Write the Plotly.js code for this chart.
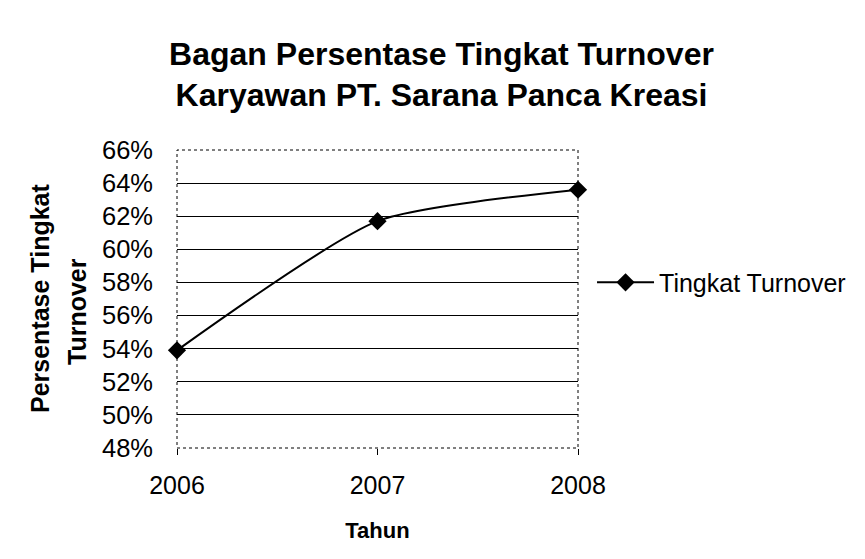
<!DOCTYPE html>
<html>
<head>
<meta charset="utf-8">
<script src="https://cdn.plot.ly/plotly-3.0.1.min.js"></script>
<style>html,body{margin:0;padding:0;background:#fff;}</style>
</head>
<body>
<div id="chart" style="width:865px;height:559px;"></div>
<script>
const years = [2006, 2007, 2008];
const turnover = [0.539, 0.617, 0.636];
const seriesName = "Tingkat Turnover";
const yTicks = [0.48, 0.50, 0.52, 0.54, 0.56, 0.58, 0.60, 0.62, 0.64, 0.66];
const yTitleLines = ["Persentase Tingkat", "Turnover"];

const font = "Liberation Sans, Arial, sans-serif";

const trace = {
  x: years,
  y: turnover,
  name: seriesName,
  type: "scatter",
  mode: "lines+markers",
  line: {color: "#000", width: 2, shape: "spline", smoothing: 0.6},
  marker: {symbol: "diamond", size: 14, color: "#000"},
  cliponaxis: false
};

const layout = {
  width: 865, height: 559,
  margin: {l: 177, r: 287, t: 150, b: 111},
  paper_bgcolor: "#fff", plot_bgcolor: "#fff",
  font: {family: font, color: "#000", size: 25},
  title: {
    text: "<b>Bagan Persentase Tingkat Turnover<br>Karyawan PT. Sarana Panca Kreasi</b>",
    font: {family: font, size: 32, color: "#000"},
    x: 0.5104, xanchor: "center", y: 0.884, yanchor: "middle", yref: "container"
  },
  xaxis: {
    range: [2006, 2008],
    tickvals: years,
    ticktext: years.map(String),
    ticks: "outside", ticklen: 6, tickcolor: "#000",
    ticklabelstandoff: 9,
    showgrid: false, zeroline: false,
    showline: false,
    tickfont: {size: 25},
    title: {text: "<b>Tahun</b>", font: {size: 22}, standoff: 24}
  },
  yaxis: {
    range: [0.48, 0.66],
    tickvals: yTicks,
    ticktext: yTicks.map(v => Math.round(v * 100) + "%"),
    showgrid: true, gridcolor: "#000", gridwidth: 1,
    zeroline: false, showline: false,
    ticks: "", ticklabelstandoff: 23,
    tickfont: {size: 25.5}
  },
  annotations: [
    {text: "<b>" + yTitleLines[0] + "</b>", xref: "paper", yref: "paper", x: 0, y: 0.5,
     xanchor: "center", yanchor: "middle", xshift: -137, yshift: 0, textangle: -90,
     showarrow: false, font: {size: 25}},
    {text: "<b>" + yTitleLines[1] + "</b>", xref: "paper", yref: "paper", x: 0, y: 0.5,
     xanchor: "center", yanchor: "middle", xshift: -100, yshift: -13, textangle: -90,
     showarrow: false, font: {size: 25}}
  ],
  shapes: [{
    type: "rect", xref: "paper", yref: "paper", x0: 0, x1: 1, y0: 0, y1: 1,
    line: {color: "#000", width: 1, dash: "dot"}
  }],
  showlegend: true,
  legend: {
    x: 1.035, xanchor: "left", y: 0.555, yanchor: "middle",
    font: {size: 25},
    itemwidth: 57,
    bgcolor: "rgba(0,0,0,0)",
    bordercolor: "#999", borderwidth: 0
  }
};

Plotly.newPlot("chart", [trace], layout, {displayModeBar: false, staticPlot: true});
</script>
</body>
</html>
